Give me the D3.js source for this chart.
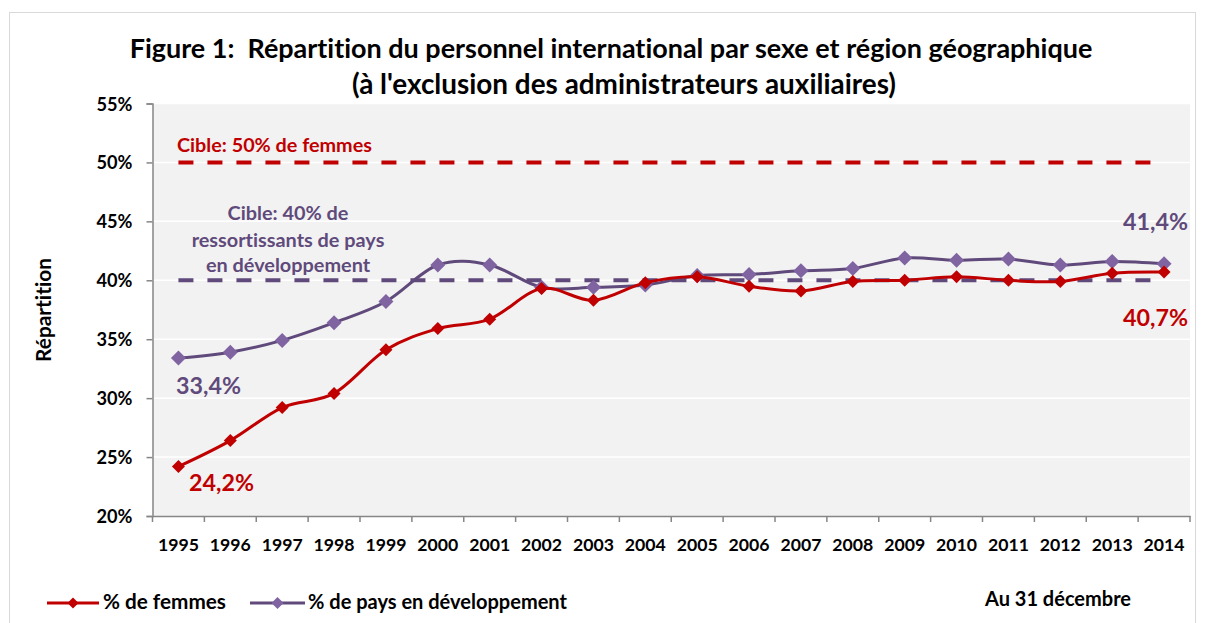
<!DOCTYPE html>
<html><head><meta charset="utf-8">
<script src="https://cdn.jsdelivr.net/npm/d3@7"></script>
<style>
html,body{margin:0;padding:0;background:#fff;}
svg{display:block;font-family:Lato,"Open Sans",sans-serif;font-weight:bold;font-variant-ligatures:none;font-feature-settings:"liga" 0,"dlig" 0;}
</style></head>
<body>
<svg id="c" width="1205" height="623"></svg>
<script>
const years = ["1995","1996","1997","1998","1999","2000","2001","2002","2003","2004","2005","2006","2007","2008","2009","2010","2011","2012","2013","2014"];
const femmes = [24.2, 26.4, 29.2, 30.4, 34.1, 35.9, 36.7, 39.3, 38.3, 39.8, 40.3, 39.5, 39.1, 39.9, 40.0, 40.3, 40.0, 39.9, 40.6, 40.7];
const paysDev = [33.4, 33.9, 34.9, 36.4, 38.2, 41.3, 41.3, 39.4, 39.4, 39.6, 40.4, 40.5, 40.8, 41.0, 41.9, 41.7, 41.8, 41.3, 41.6, 41.4];
const yTicks = [20, 25, 30, 35, 40, 45, 50, 55];
const cibleFemmes = 50;
const cibleDev = 40;

const RED = "#c00000", PURPLE = "#604a7b", PURPLE_M = "#8064a2";
const svg = d3.select("#c");

function fit(sel, w) {
  const n = sel.node();
  const fs = parseFloat(sel.attr("font-size"));
  const len = n.getComputedTextLength();
  if (len > 0) sel.attr("font-size", (fs * w / len).toFixed(2));
  return sel;
}
function fitSize(txt, fs, w) {
  const t = svg.append("text").attr("font-size", fs).text(txt);
  const len = t.node().getComputedTextLength();
  t.remove();
  return fs * w / len;
}

// border
svg.append("rect").attr("x", 9.5).attr("y", 12.5).attr("width", 1186).attr("height", 640)
  .attr("fill", "#fff").attr("stroke", "#d9d9d9").attr("stroke-width", 1);

const L = 152.5, R = 1190, T = 103.5, B = 516;
const x = d3.scaleBand().domain(years).range([L, R]);
const y = d3.scaleLinear().domain([20, 55]).range([B, T]);
const cx = d => x(d) + x.bandwidth() / 2;

// plot area
svg.append("rect").attr("x", L).attr("y", T).attr("width", R - L).attr("height", B - T).attr("fill", "#f2f2f2");

// gridlines
svg.append("g").selectAll("line").data(yTicks.filter(v => v > 20)).join("line")
  .attr("x1", L).attr("x2", R).attr("y1", d => y(d)).attr("y2", d => y(d))
  .attr("stroke", "#ffffff").attr("stroke-width", 1.5);

// axes
const yFs = fitSize("55%", 16, 36);
const yAxis = svg.append("g").attr("transform", `translate(${L},0)`)
  .call(d3.axisLeft(y).tickValues(yTicks).tickSize(6).tickPadding(14).tickFormat(d => d + "%"));
yAxis.attr("font-size", null).attr("font-family", null);
yAxis.select(".domain").attr("stroke", "#868686").attr("stroke-width", 1.5);
yAxis.selectAll(".tick line").attr("stroke", "#868686").attr("stroke-width", 1.5);
yAxis.selectAll(".tick text").attr("font-weight", "bold")
  .attr("font-size", yFs).attr("fill", "#000").attr("dy", "0.36em");

const xFs = fitSize("1995", 16, 41);
const xAxis = svg.append("g").attr("transform", `translate(0,${B})`)
  .call(d3.axisBottom(x).tickSize(0).tickPadding(22));
xAxis.attr("font-size", null).attr("font-family", null);
xAxis.select(".domain").attr("stroke", "#868686").attr("stroke-width", 1.5);
xAxis.selectAll(".tick line").remove();
xAxis.selectAll(".tick text").attr("font-weight", "bold")
  .attr("font-size", xFs).attr("fill", "#000");
// tick marks between categories
const bounds = years.map(d => x(d)).concat([R]);
svg.append("g").selectAll("line").data(bounds).join("line")
  .attr("x1", d => d).attr("x2", d => d).attr("y1", B).attr("y2", B + 6)
  .attr("stroke", "#868686").attr("stroke-width", 1.5);

// target lines
svg.append("line").attr("x1", cx(years[0])).attr("x2", cx(years[years.length - 1]))
  .attr("y1", y(cibleFemmes)).attr("y2", y(cibleFemmes))
  .attr("stroke", RED).attr("stroke-width", 4).attr("stroke-dasharray", "15 14");
svg.append("line").attr("x1", cx(years[0])).attr("x2", cx(years[years.length - 1]))
  .attr("y1", y(cibleDev)).attr("y2", y(cibleDev))
  .attr("stroke", PURPLE).attr("stroke-width", 4).attr("stroke-dasharray", "15 14");

// lines
const line = d3.line().x((d, i) => cx(years[i])).y(d => y(d)).curve(d3.curveCardinal.tension(0));
const diamond = s => `M0,${-s}L${s},0L0,${s}L${-s},0Z`;

svg.append("path").datum(paysDev).attr("d", line).attr("fill", "none")
  .attr("stroke", PURPLE).attr("stroke-width", 3);
svg.append("g").selectAll("path").data(paysDev).join("path")
  .attr("transform", (d, i) => `translate(${cx(years[i])},${y(d)})`)
  .attr("d", diamond(7.5)).attr("fill", PURPLE_M);

svg.append("path").datum(femmes).attr("d", line).attr("fill", "none")
  .attr("stroke", RED).attr("stroke-width", 3);
svg.append("g").selectAll("path").data(femmes).join("path")
  .attr("transform", (d, i) => `translate(${cx(years[i])},${y(d)})`)
  .attr("d", diamond(6.5)).attr("fill", RED);

// title
fit(svg.append("text").attr("x", 611).attr("y", 58).attr("text-anchor", "middle").attr("font-size", 23)
  .attr("xml:space", "preserve").style("white-space", "pre")
  .attr("fill", "#000").text("Figure 1:  Répartition du personnel international par sexe et région géographique"), 963);
fit(svg.append("text").attr("x", 624).attr("y", 94).attr("text-anchor", "middle").attr("font-size", 23)
  .attr("fill", "#000").text("(à l'exclusion des administrateurs auxiliaires)"), 544);

// annotations
fit(svg.append("text").attr("x", 177).attr("y", 152).attr("font-size", 17).attr("fill", RED)
  .text("Cible: 50% de femmes"), 195);
const lab = ["Cible: 40% de", "ressortissants de pays", "en développement"];
const labY = [220, 247, 272];
const t2 = svg.append("text").attr("x", 288).attr("y", labY[1]).attr("text-anchor", "middle")
  .attr("font-size", 17).attr("fill", PURPLE).text(lab[1]);
fit(t2, 193);
const fs2 = t2.attr("font-size");
[0, 2].forEach(i => svg.append("text").attr("x", 288).attr("y", labY[i]).attr("text-anchor", "middle")
  .attr("font-size", fs2).attr("fill", PURPLE).text(lab[i]));

const fmt = v => v.toFixed(1).replace(".", ",") + "%";
fit(svg.append("text").attr("x", 176).attr("y", 394).attr("font-size", 22).attr("fill", PURPLE)
  .text(fmt(paysDev[0])), 65);
fit(svg.append("text").attr("x", 189).attr("y", 491).attr("font-size", 22).attr("fill", RED)
  .text(fmt(femmes[0])), 65);
fit(svg.append("text").attr("x", 1188).attr("y", 230).attr("text-anchor", "end").attr("font-size", 22).attr("fill", PURPLE)
  .text(fmt(paysDev[paysDev.length - 1])), 65);
fit(svg.append("text").attr("x", 1188).attr("y", 326).attr("text-anchor", "end").attr("font-size", 22).attr("fill", RED)
  .text(fmt(femmes[femmes.length - 1])), 65);

// y axis title
fit(svg.append("text").attr("transform", "translate(51,310) rotate(-90)").attr("text-anchor", "middle")
  .attr("font-size", 15).attr("fill", "#000").text("Répartition"), 104);

// legend
const legend = [{ name: "% de femmes", c: RED, m: RED, x: 47, x2: 99, tx: 103, s: 5.5, w: 123 },
                { name: "% de pays en développement", c: PURPLE, m: PURPLE_M, x: 250, x2: 305, tx: 308, s: 6, w: 259 }];
legend.forEach(l => {
  svg.append("line").attr("x1", l.x).attr("x2", l.x2).attr("y1", 603).attr("y2", 603)
    .attr("stroke", l.c).attr("stroke-width", 3);
  svg.append("path").attr("transform", `translate(${(l.x + l.x2) / 2},603)`).attr("d", diamond(l.s)).attr("fill", l.m);
  fit(svg.append("text").attr("x", l.tx).attr("y", 609).attr("font-size", 16).attr("fill", "#000").text(l.name), l.w);
});
fit(svg.append("text").attr("x", 985).attr("y", 606).attr("font-size", 16).attr("fill", "#000").text("Au 31 décembre"), 146);
</script>
</body></html>
